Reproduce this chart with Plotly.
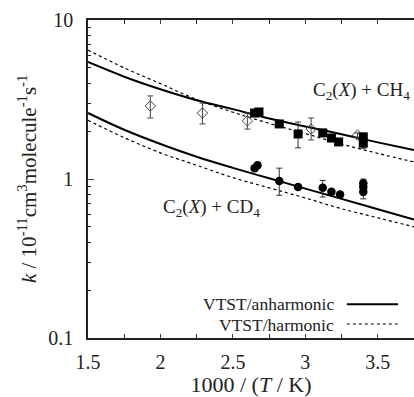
import plotly.graph_objects as go
import numpy as np

# Model curves
x_curve = [1.5, 1.75, 2.0, 2.25, 2.5, 2.75, 3.0, 3.25, 3.5, 3.75]
ch4_anharm = [5.44, 4.40, 3.67, 3.13, 2.75, 2.40, 2.14, 1.91, 1.70, 1.52]
ch4_harm = [6.47, 5.00, 3.98, 3.16, 2.63, 2.24, 1.93, 1.66, 1.45, 1.28]
cd4_anharm = [2.60, 2.04, 1.66, 1.38, 1.175, 1.01, 0.87, 0.75, 0.645, 0.556]
cd4_harm = [2.34, 1.82, 1.46, 1.22, 1.02, 0.88, 0.76, 0.65, 0.57, 0.50]

# CH4 open diamonds
ch4_open_x = [1.93, 2.29, 2.60, 3.04, 3.36]
ch4_open_y = [2.88, 2.60, 2.32, 2.06, 1.89]
ch4_open_up = [0.45, 0.40, 0.28, 0.36, 0.06]
ch4_open_dn = [0.46, 0.38, 0.26, 0.30, 0.06]

# CH4 filled squares
ch4_sq_x = [2.65, 2.68, 2.82, 2.95, 3.12, 3.18, 3.23, 3.40, 3.40]
ch4_sq_y = [2.60, 2.64, 2.22, 1.92, 1.95, 1.81, 1.71, 1.84, 1.68]
ch4_sq_up = [0.05, 0.05, 0.05, 0.36, 0.05, 0.05, 0.05, 0.10, 0.05]
ch4_sq_dn = [0.05, 0.05, 0.05, 0.35, 0.05, 0.05, 0.05, 0.05, 0.12]

# CD4 filled circles
cd4_x = [2.65, 2.67, 2.82, 2.95, 3.12, 3.18, 3.24, 3.40, 3.40, 3.40]
cd4_y = [1.17, 1.22, 0.97, 0.89, 0.88, 0.83, 0.80, 0.94, 0.89, 0.83]
cd4_up = [0.03, 0.03, 0.20, 0.03, 0.10, 0.03, 0.03, 0.06, 0.03, 0.03]
cd4_dn = [0.03, 0.03, 0.18, 0.03, 0.11, 0.03, 0.03, 0.03, 0.03, 0.08]

FONT = "Liberation Serif"
fig = go.Figure()

for ys, dash, w in [(ch4_anharm, "solid", 2), (ch4_harm, "dot", 1.2),
                    (cd4_anharm, "solid", 2), (cd4_harm, "dot", 1.2)]:
    fig.add_trace(go.Scatter(x=x_curve, y=ys, mode="lines", line=dict(color="black", width=w, dash=dash,
                                                                        shape="spline"), showlegend=False))

fig.add_trace(go.Scatter(x=ch4_open_x, y=ch4_open_y, mode="markers",
                         marker=dict(symbol="diamond-open", size=8, color="#444", line=dict(width=1)),
                         error_y=dict(type="data", array=ch4_open_up, arrayminus=ch4_open_dn,
                                      color="#444", thickness=1, width=3), showlegend=False))
fig.add_trace(go.Scatter(x=ch4_sq_x, y=ch4_sq_y, mode="markers",
                         marker=dict(symbol="square", size=9, color="black"),
                         error_y=dict(type="data", array=ch4_sq_up, arrayminus=ch4_sq_dn,
                                      color="#333", thickness=1, width=3), showlegend=False))
fig.add_trace(go.Scatter(x=cd4_x, y=cd4_y, mode="markers",
                         marker=dict(symbol="circle", size=8.5, color="black"),
                         error_y=dict(type="data", array=cd4_up, arrayminus=cd4_dn,
                                      color="#333", thickness=1, width=3), showlegend=False))

minor_vals = [v * m for v in (0.1, 1) for m in range(2, 10)]
fig.update_layout(
    width=414, height=397, margin=dict(l=88, r=0, t=20, b=59, autoexpand=False),
    paper_bgcolor="white", plot_bgcolor="white",
    font=dict(family=FONT, size=20, color="#222"),
    showlegend=False,
    xaxis=dict(range=[1.5, 3.75], tickvals=[1.5, 2, 2.5, 3, 3.5], ticktext=["1.5", "2", "2.5", "3", "3.5"],
               ticks="inside", ticklen=4, showline=True, linecolor="#222", linewidth=1.5, mirror="ticks",
               showgrid=False, zeroline=False, ticklabelstandoff=5,
               tickfont=dict(size=20),
               minor=dict(tickvals=[1.75, 2.25, 2.75, 3.25], ticks="inside", ticklen=4, tickcolor="#222"),
               title=dict(text="1000 / (<i>T</i> / K)", font=dict(size=22), standoff=2)),
    yaxis=dict(type="log", range=[-1, 1], tickvals=[0.1, 1, 10], ticktext=["0.1", "1", "10"],
               ticks="inside", ticklen=6, showline=True, linecolor="#222", linewidth=1.5,
               showgrid=False, zeroline=False, ticklabelstandoff=9,
               tickfont=dict(size=20),
               minor=dict(tickvals=minor_vals, ticks="inside", ticklen=3, tickcolor="#222")),
)

# y-axis title as rotated annotation centered on the plot height
fig.add_annotation(xref="paper", yref="paper", x=-0.187, y=0.5, xanchor="center", yanchor="middle",
                   textangle=-90, showarrow=False,
                   text="<i>k</i> / 10<sup>-11</sup>cm<sup>3</sup>molecule<sup>-1</sup>s<sup>-1</sup>",
                   font=dict(size=21, family=FONT))

fig.add_annotation(x=3.39, y=np.log10(3.6), text="C<sub>2</sub>(<i>X</i>) + CH<sub>4</sub>", showarrow=False,
                   font=dict(size=19, family=FONT))
fig.add_annotation(x=2.35, y=np.log10(0.66), text="C<sub>2</sub>(<i>X</i>) + CD<sub>4</sub>", showarrow=False,
                   font=dict(size=19, family=FONT))

# Legend (text then line sample)
fig.add_annotation(xref="paper", yref="paper", x=0.758, y=0.108, xanchor="right", yanchor="middle",
                   text="VTST/anharmonic", showarrow=False, borderpad=0, font=dict(size=17.5, family=FONT))
fig.add_annotation(xref="paper", yref="paper", x=0.758, y=0.042, xanchor="right", yanchor="middle",
                   text="VTST/harmonic", showarrow=False, borderpad=0, font=dict(size=17.5, family=FONT))
fig.add_shape(type="line", xref="paper", yref="paper", x0=0.794, x1=0.951, y0=0.106, y1=0.106,
              line=dict(color="black", width=2))
fig.add_shape(type="line", xref="paper", yref="paper", x0=0.794, x1=0.951, y0=0.044, y1=0.044,
              line=dict(color="black", width=1.2, dash="dot"))

fig.write_html("out.html")
